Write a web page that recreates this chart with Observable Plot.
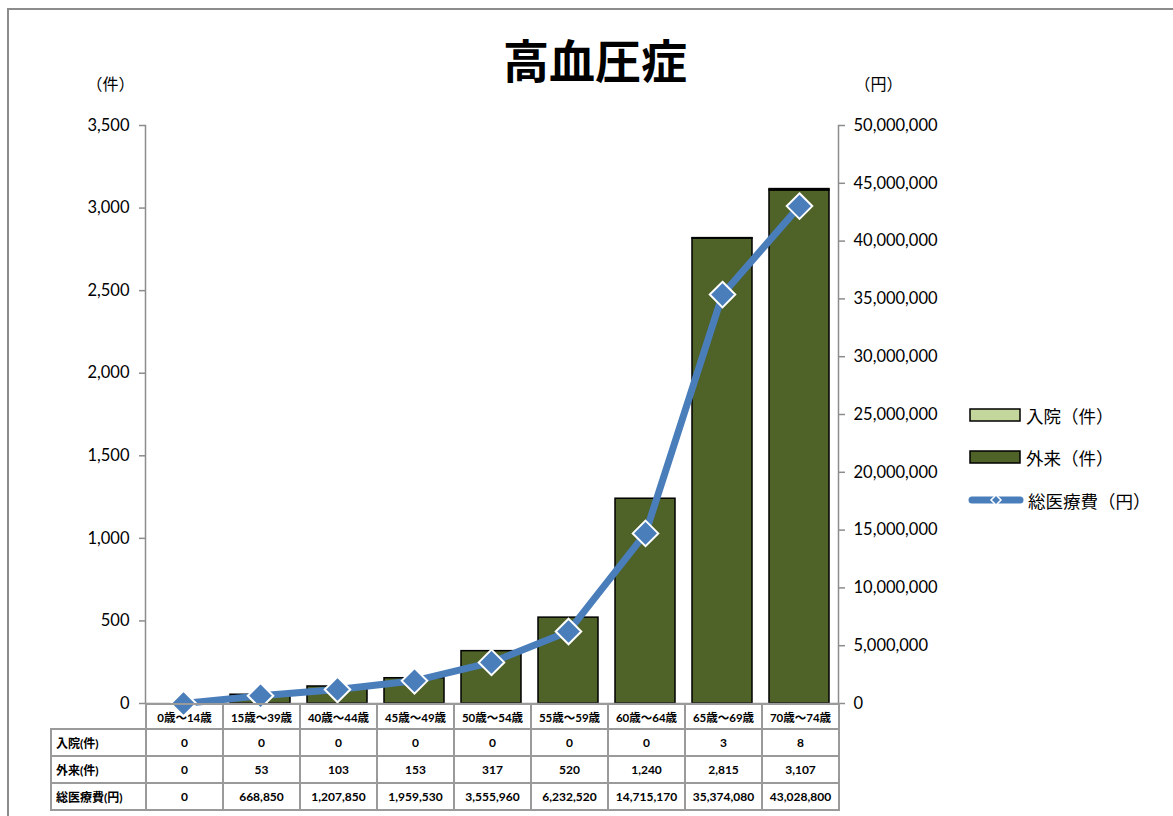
<!DOCTYPE html>
<html><head><meta charset="utf-8">
<script src="https://cdn.jsdelivr.net/npm/d3@7"></script>
<script src="https://cdn.jsdelivr.net/npm/@observablehq/plot@0.6"></script>
<style>
html,body{margin:0;padding:0;background:#fff;overflow:hidden;}
#wrap{position:relative;width:1173px;height:816px;font-family:Lato,"Noto Sans CJK JP",sans-serif;}
#border{position:absolute;left:7px;top:8px;width:1200px;height:900px;border-left:2px solid #8c8c8c;border-top:2px solid #8c8c8c;}
#title{position:absolute;left:0;width:1190px;top:28px;text-align:center;font-family:"Noto Sans CJK JP",sans-serif;font-weight:bold;font-size:46px;line-height:60px;color:#000;}
#chart{position:absolute;left:0;top:0;}
#tbl{position:absolute;left:50px;top:703px;border-collapse:collapse;table-layout:fixed;font-family:Lato,"Noto Sans CJK JP",sans-serif;font-weight:bold;font-size:12px;color:#000;}
#tbl td{border:2px solid #9a9a9a;text-align:center;padding:0;white-space:nowrap;overflow:hidden;}
#tbl td.lab{text-align:left;padding-left:4px;}
#tbl tr.hd td{height:23px;font-size:11.5px;}
#tbl tr.rw td{height:25px;}
#tbl td.empty{border-top:none;border-left:none;}
.leg{position:absolute;left:968px;height:24px;display:flex;align-items:center;font-family:"Noto Sans CJK JP",sans-serif;font-size:17.5px;color:#000;}
.leg svg{margin-right:4px;}
</style></head>
<body><div id="wrap">
<div id="border"></div>
<div id="chart"></div>
<div id="title">高血圧症</div>
</div>
<script>
const categories = ["0歳～14歳","15歳～39歳","40歳～44歳","45歳～49歳","50歳～54歳","55歳～59歳","60歳～64歳","65歳～69歳","70歳～74歳"];
const inpatient = [0,0,0,0,0,0,0,3,8];
const outpatient = [0,53,103,153,317,520,1240,2815,3107];
const totalCost = [0,668850,1207850,1959530,3555960,6232520,14715170,35374080,43028800];
const seriesNames = ["入院（件）","外来（件）","総医療費（円）"];
const rowLabels = ["入院(件)","外来(件)","総医療費(円)"];
const leftTicks = [0,500,1000,1500,2000,2500,3000,3500];
const rightTicks = [0,5e6,10e6,15e6,20e6,25e6,30e6,35e6,40e6,45e6,50e6];
const leftMax = 3500, rightMax = 50000000;
const ratio = leftMax / rightMax;

const barData = [];
categories.forEach((c,i)=>{
  barData.push({cat:c, series:seriesNames[1], value:outpatient[i]});
  barData.push({cat:c, series:seriesNames[0], value:inpatient[i]});
});
const costData = categories.map((c,i)=>({cat:c, cost:totalCost[i]}));
const fmt = d3.format(",");

const chart = Plot.plot({
  width:1173, height:730,
  marginLeft:145, marginRight:335, marginTop:125, marginBottom:27,
  style:{fontFamily:'Lato,"Noto Sans CJK JP",sans-serif', fontSize:"16.5px", background:"transparent", overflow:"visible"},
  x:{domain:categories, paddingInner:0.22, paddingOuter:0.11, axis:null},
  y:{domain:[0,leftMax], axis:null},
  color:{domain:[seriesNames[1],seriesNames[0]], range:["#4F6228","#C3D69B"]},
  marks:[
    Plot.barY(barData.filter(d=>d.value>0), Plot.stackY({x:"cat", y:"value", fill:"series", stroke:"black", strokeWidth:1.5})),
    Plot.ruleY([0], {stroke:"#8c8c8c", strokeWidth:1.5}),
    Plot.frame({anchor:"left", stroke:"#8c8c8c", strokeWidth:1.5}),
    Plot.frame({anchor:"right", stroke:"#8c8c8c", strokeWidth:1.5}),
    Plot.axisY({ticks:leftTicks, tickFormat:fmt, tickSize:6, tickPadding:10, stroke:"#8c8c8c", fill:"black", strokeWidth:1.5, label:null}),
    Plot.axisY({anchor:"right", ticks:rightTicks.map(v=>v*ratio), tickFormat:d=>fmt(Math.round(d/ratio)), tickSize:6, tickPadding:9, stroke:"#8c8c8c", fill:"black", strokeWidth:1.5, label:null}),
    Plot.line(costData, {x:"cat", y:d=>d.cost*ratio, stroke:"#4a7ebb", strokeWidth:7, strokeLinejoin:"round"}),
    Plot.dot(costData, {x:"cat", y:d=>d.cost*ratio, symbol:"diamond2", r:11.5, fill:"#4a7ebb", stroke:"white", strokeWidth:2}),
    Plot.text(["（件）"], {frameAnchor:"top-left", dx:-59, dy:-47, fontSize:16, fill:"black", fontFamily:'"Noto Sans CJK JP",sans-serif'}),
    Plot.text(["（円）"], {frameAnchor:"top-right", dx:64, dy:-47, fontSize:16, fill:"black", fontFamily:'"Noto Sans CJK JP",sans-serif'})
  ]
});
document.getElementById("chart").appendChild(chart);

// data table below the axis
const wrap = document.getElementById("wrap");
const tbl = document.createElement("table");
tbl.id = "tbl";
const cg = document.createElement("colgroup");
[95,...categories.map(()=>77)].forEach(w=>{const c=document.createElement("col"); c.style.width=w+"px"; cg.appendChild(c);});
tbl.appendChild(cg);
const hd = document.createElement("tr"); hd.className="hd";
const e = document.createElement("td"); e.className="empty"; hd.appendChild(e);
categories.forEach(c=>{const td=document.createElement("td"); td.textContent=c; hd.appendChild(td);});
tbl.appendChild(hd);
[inpatient,outpatient,totalCost].forEach((arr,r)=>{
  const tr=document.createElement("tr"); tr.className="rw";
  const l=document.createElement("td"); l.className="lab"; l.textContent=rowLabels[r]; tr.appendChild(l);
  arr.forEach(v=>{const td=document.createElement("td"); td.textContent=fmt(v); tr.appendChild(td);});
  tbl.appendChild(tr);
});
wrap.appendChild(tbl);

// legend
const legItems = [
  {name:seriesNames[0], type:"bar", color:"#C3D69B", y:403},
  {name:seriesNames[1], type:"bar", color:"#4F6228", y:445},
  {name:seriesNames[2], type:"line", color:"#4a7ebb", y:488}
];
legItems.forEach(it=>{
  const div=document.createElement("div"); div.className="leg"; div.style.top=it.y+"px";
  let sw;
  if(it.type==="bar"){
    sw=`<svg width="54" height="16"><rect x="2" y="2" width="50" height="12" fill="${it.color}" stroke="black" stroke-width="1.5"/></svg>`;
  } else {
    sw=`<svg width="56" height="16"><line x1="4" y1="8" x2="52" y2="8" stroke="${it.color}" stroke-width="7" stroke-linecap="round"/><path d="M28,3 L33,8 L28,13 L23,8 Z" fill="${it.color}" stroke="white" stroke-width="1.5"/></svg>`;
  }
  div.innerHTML = sw + `<span>${it.name}</span>`;
  wrap.appendChild(div);
});
</script>
</body></html>
